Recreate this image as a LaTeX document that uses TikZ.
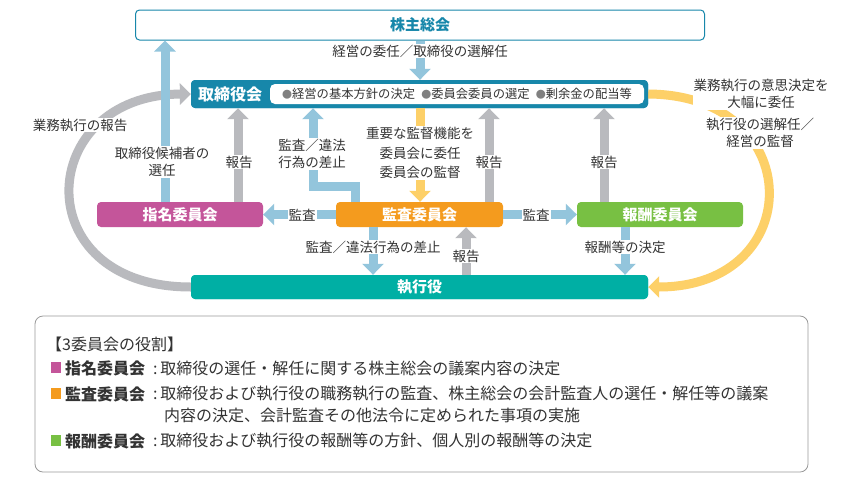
\documentclass[tikz,border=0pt]{standalone}
\usepackage{fontspec}
\setmainfont{Noto Sans CJK JP}
\usetikzlibrary{arrows.meta}
\definecolor{cblue}{HTML}{1787AA}
\definecolor{lblue}{HTML}{93C5DC}
\definecolor{lgray}{HTML}{B9BABE}
\definecolor{lyel}{HTML}{FDD068}
\definecolor{cmag}{HTML}{C4559A}
\definecolor{cora}{HTML}{F49B1E}
\definecolor{cgrn}{HTML}{78C043}
\definecolor{cteal}{HTML}{00AFA4}
\definecolor{txt}{HTML}{333333}
\begin{document}
\begin{tikzpicture}[x=1pt,y=-1pt,
  box/.style={rounded corners=4pt,minimum height=25pt,text=white,font=\fontsize{15}{17}\selectfont\bfseries,inner sep=0pt},
  fat/.style={line width=9pt,-{Triangle[width=21pt,length=11pt]}},
  lab/.style={fill=white,text=txt,font=\fontsize{13.5}{17}\selectfont,inner sep=1pt,align=center},
  lg/.style={anchor=west,text=txt,font=\fontsize{16}{18}\selectfont,inner sep=0pt}]
\useasboundingbox (0,0) rectangle (850,482);
\fill[white] (0,0) rectangle (850,482);
\node[box,fill=cblue,minimum width=457pt,minimum height=28pt] (tori) at (419.5,94) {};
\node[box,fill=cteal,minimum width=457pt,minimum height=24pt] (shikko) at (419.5,287) {};
\draw[fat,lgray] (shikko.west) .. controls (25,287) and (35,95) .. (tori.west);
\draw[fat,lyel] (tori.east) .. controls (808,95) and (808,287) .. (shikko.east);
\node[box,fill=cblue,minimum width=457pt,minimum height=28pt] at (419.5,94) {};
\node[box,fill=cteal,minimum width=457pt,minimum height=24pt] at (419.5,287) {執行役};
\node[box,draw=cblue,line width=1pt,fill=white,text=cblue,minimum width=569pt,minimum height=30pt,font=\fontsize{15}{17}\selectfont\bfseries] (kabu) at (420,25) {株主総会};
\node[text=white,font=\fontsize{16}{18}\selectfont\bfseries] (torit) at (230,94) {取締役会};
\node[fill=white,rounded corners=5pt,minimum width=374pt,minimum height=20pt,inner sep=0pt,text=txt,font=\fontsize{12.3}{14}\selectfont] (torin) at (457,94) {{\color{gray}\fontsize{10}{12}\selectfont●}経営の基本方針の決定\enspace{\color{gray}\fontsize{10}{12}\selectfont●}委員会委員の選定\enspace{\color{gray}\fontsize{10}{12}\selectfont●}剰余金の配当等};
\node[box,fill=cmag,minimum width=166pt] (shimei) at (180,214.5) {指名委員会};
\node[box,fill=cora,minimum width=167pt] (kansa) at (419.5,214.5) {監査委員会};
\node[box,fill=cgrn,minimum width=166pt] (hoshu) at (660,214.5) {報酬委員会};
% arrows
\draw[fat,lblue] (kabu.south -| 420,0) -- (tori.north -| 420,0);
\draw[fat,lblue] (shimei.north -| 165,0) -- (kabu.south -| 165,0);
\draw[fat,lgray] (shimei.north -| 238,0) -- (tori.south -| 238,0);
\draw[fat,lblue,line join=miter] (kansa.north -| 355,0) -- (355,186) -- (313,186) -- (tori.south -| 313,0);
\draw[fat,lyel] (tori.south -| 420,0) -- (kansa.north -| 420,0);
\draw[fat,lgray] (kansa.north -| 489,0) -- (tori.south -| 489,0);
\draw[fat,lgray] (hoshu.north -| 604,0) -- (tori.south -| 604,0);
\draw[fat,lblue] (kansa.west) -- (shimei.east);
\draw[fat,lblue] (kansa.east) -- (hoshu.west);
\draw[fat,lblue] (kansa.south -| 373,0) -- (shikko.north -| 373,0);
\draw[fat,lgray] (shikko.north -| 466,0) -- (kansa.south -| 466,0);
\draw[fat,lblue] (hoshu.south -| 625,0) -- (shikko.north -| 625,0);
% labels
\node[lab] at (420,51) {経営の委任／取締役の選解任};
\node[lab] at (80,125) {業務執行の報告};
\node[lab] at (162,162) {取締役候補者の\\選任};
\node[lab] at (239,162) {報告};
\node[lab] at (312,154) {監査／違法\\行為の差止};
\node[lab,font=\fontsize{13.5}{19.5}\selectfont] at (420,153) {重要な監督機能を\\委員会に委任\\委員会の監督};
\node[lab] at (489,162) {報告};
\node[lab] at (604,162) {報告};
\node[lab] at (302,215) {監査};
\node[lab] at (536,215) {監査};
\node[lab] at (373,247) {監査／違法行為の差止};
\node[lab] at (466,256) {報告};
\node[lab] at (625,247) {報酬等の決定};
\node[lab] at (761,94) {業務執行の意思決定を\\大幅に委任};
\node[lab] at (760,133) {執行役の選解任／\\経営の監督};
% legend
\draw[rounded corners=8pt,draw=gray!80,line width=0.8pt] (35,316) rectangle (808,472);
\node[lg] (l0) at (46,344) {【3委員会の役割】};
\fill[cmag] (51,362) rectangle (61,373);
\node[lg] (l1) at (65,368) {\bfseries 指名委員会};
\node[lg] at (153,368) {:\,取締役の選任・解任に関する株主総会の議案内容の決定};
\fill[cora] (51,388) rectangle (61,399);
\node[lg] (l2) at (65,394) {\bfseries 監査委員会};
\node[lg] at (153,394) {:\,取締役および執行役の職務執行の監査、株主総会の会計監査人の選任・解任等の議案};
\node[lg] at (164,415) {内容の決定、会計監査その他法令に定められた事項の実施};
\fill[cgrn] (51,435) rectangle (61,446);
\node[lg] (l3) at (65,441) {\bfseries 報酬委員会};
\node[lg] at (153,441) {:\,取締役および執行役の報酬等の方針、個人別の報酬等の決定};
\end{tikzpicture}
\end{document}
